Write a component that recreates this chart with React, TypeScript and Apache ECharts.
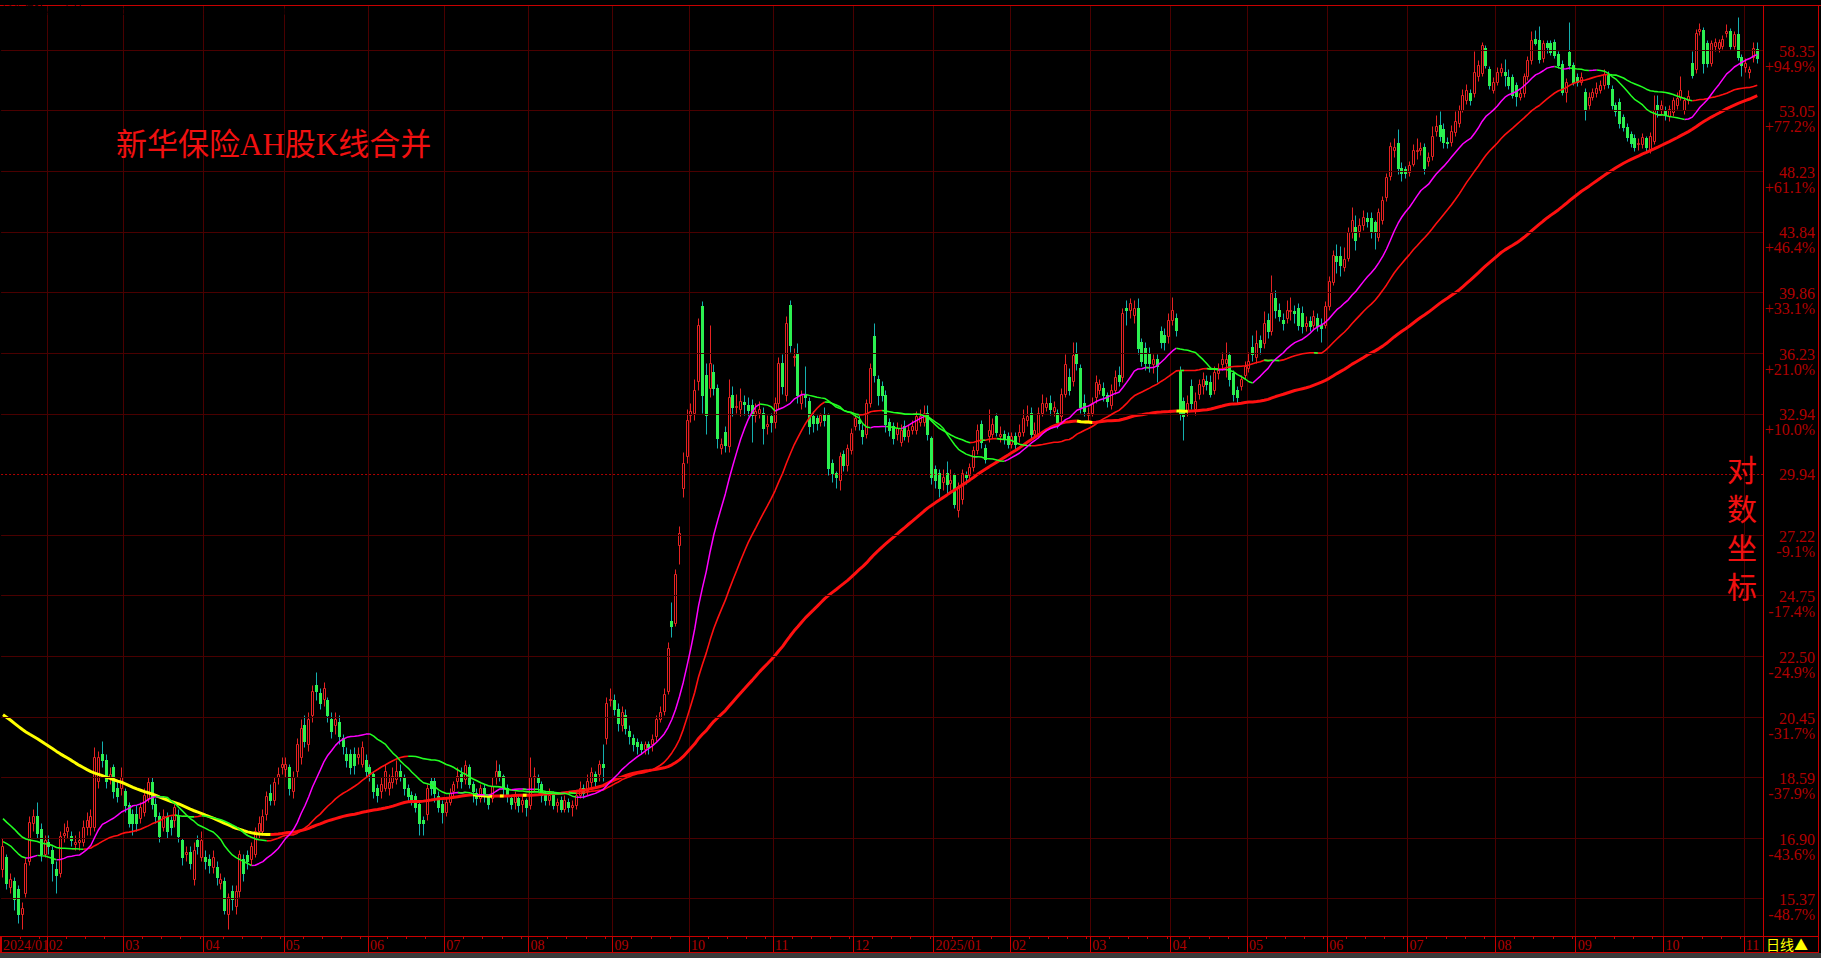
import React, { useEffect, useRef } from "react";
import * as echarts from "echarts";

// ---------------- data ----------------
const monthKeys = ["2024/01","2024/02","2024/03","2024/04","2024/05","2024/06","2024/07","2024/08","2024/09","2024/10","2024/11","2024/12","2025/01","2025/02","2025/03","2025/04","2025/05","2025/06","2025/07","2025/08","2025/09","2025/10","2025/11"];
const monthLabels = ["2024/01","02","03","04","05","06","07","08","09","10","11","12","2025/01","02","03","04","05","06","07","08","09","10","11"];
const monthTradingDays = [12,20,21,21,22,20,22,22,20,22,21,21,20,21,21,20,21,21,23,21,23,21,5];

const yTickValues = [15.37,16.90,18.59,20.45,22.50,24.75,27.22,29.94,32.94,36.23,39.86,43.84,48.23,53.05,58.35];
const yTickLabels = ["15.37","16.90","18.59","20.45","22.50","24.75","27.22","29.94","32.94","36.23","39.86","43.84","48.23","53.05","58.35"];
const yTickPercents = ["-48.7%","-43.6%","-37.9%","-31.7%","-24.9%","-17.4%","-9.1%","","+10.0%","+21.0%","+33.1%","+46.4%","+61.1%","+77.2%","+94.9%"];
const yBaseValue = 29.94;
const yMin = 14.494;
const yMax = 62.63;

const headerName = "新华保险AH合并(20,38,100)";
const headerValues = ["57.925","57.925","55.206","55.206","53.951","53.951"];
const headerColors = ["#3434ff","#ff00ff","#00a8a8","#d0d0d0","#d0d0d0","#d0d0d0"];
const titleText = "新华保险AH股K线合并";
const scaleNote = "对数坐标";
const periodText = "日线▲";

const maPeriods = [20, 38, 100];

// closes of the sessions before the window (estimated from where the MA lines start)
const priorCloses = [
  24.8,24.6,24.9,25.1,24.7,24.3,24.5,24.8,24.4,24.1,24.3,24.6,24.2,23.9,24.1,24.4,24.0,23.7,23.9,24.2,23.8,23.5,23.7,23.4,
  23.3,22.9,23.1,22.6,22.2,22.5,22.1,21.8,22.2,22.6,22.3,21.9,21.6,22.0,21.7,21.3,21.6,21.9,21.5,21.1,21.4,21.0,20.7,21.1,21.5,21.2,20.8,20.5,20.9,20.6,20.2,20.5,20.8,20.4,20.1,19.8,20.1,19.7,19.4,19.7,19.3,19.0,19.2,18.8,
  18.2,18.5,18.1,17.8,18.0,17.6,17.3,17.6,17.9,17.5,17.2,17.4,17.1,16.8,17.1,17.4,17.0,16.7,16.9,17.2,16.8,16.5,16.7,17.0,17.3,16.9,16.6,16.8,16.5,16.3,16.6,16.4,
];

// [open, close, low, high]
const kJan2024toAug2024 = [
  [16.1,16.7,15.9,16.9],[16.4,15.75,15.6,16.5],[15.65,15.85,15.5,16.0],[15.8,15.35,15.1,15.9],[15.6,15.0,14.8,15.7],
  [15.0,15.15,14.65,15.3],[15.5,16.25,15.4,16.4],[16.3,17.35,16.2,17.5],[17.3,17.5,17.1,17.7],[17.5,17.05,16.9,17.9],
  [17.15,16.5,16.3,17.3],[16.5,16.85,16.4,17.0],[16.8,16.7,16.5,17.0],[16.6,16.25,15.8,16.7],[16.1,15.95,15.5,16.3],
  [16.0,16.95,15.9,17.1],[17.0,17.05,16.8,17.3],[17.1,17.2,16.9,17.4],[16.95,16.85,16.7,17.1],[16.75,16.8,16.6,17.0],
  [16.8,16.85,16.6,17.1],[16.8,17.2,16.7,17.4],[17.2,17.4,17.0,17.6],[17.2,17.5,17.0,17.7],[17.2,19.2,17.1,19.5],
  [18.5,19.2,18.3,19.4],[19.3,19.1,18.9,19.7],[19.1,18.5,18.3,19.3],[18.6,18.7,18.4,18.9],[18.9,18.2,18.0,19.0],
  [18.3,18.05,17.9,18.5],[18.3,18.6,18.1,18.9],[18.2,17.8,17.6,18.3],[17.8,17.3,17.2,17.9],[17.55,17.3,17.0,17.7],
  [17.55,17.3,17.1,17.8],[17.45,17.75,17.3,17.9],[17.6,18.1,17.5,18.3],[18.0,18.45,17.9,18.6],[18.45,17.85,17.7,18.6],
  [17.85,17.5,17.3,18.0],[17.5,16.95,16.8,17.6],[17.2,17.5,17.1,17.7],[17.5,17.1,16.9,17.6],[17.4,17.2,17.0,17.5],
  [17.4,17.75,17.2,17.9],[17.5,16.95,16.8,17.7],[16.85,16.4,16.2,16.9],[16.5,16.55,16.3,16.7],[16.55,16.25,16.1,16.7],
  [15.85,16.6,15.7,16.8],[16.85,16.7,16.5,17.0],[16.4,16.85,16.3,17.1],[16.4,16.3,16.1,16.6],[16.35,16.2,16.0,16.5],
  [16.15,16.4,16.0,16.6],[16.15,15.9,15.7,16.3],[15.75,15.85,15.6,16.0],[15.8,15.1,15.0,15.9],[15.0,15.4,14.65,15.5],
  [15.55,15.35,15.1,15.7],[15.2,15.55,15.0,15.7],[15.55,16.5,15.4,16.6],[16.35,16.0,15.8,16.5],[16.45,16.3,16.1,16.6],
  [16.35,16.7,16.2,16.8],[16.5,17.1,16.4,17.2],[17.1,17.3,16.9,17.5],[17.1,17.5,17.0,17.7],[17.55,18.05,17.4,18.2],
  [18.15,17.95,17.8,18.4],[17.95,18.45,17.8,18.6],[18.6,18.7,18.4,18.9],[18.9,19.0,18.7,19.2],[18.85,19.0,18.6,19.2],
  [18.9,18.3,18.1,19.0],[18.2,18.6,18.0,18.8],[18.8,19.6,18.6,19.8],[19.2,20.1,19.0,20.4],[20.2,19.7,19.5,20.5],
  [19.6,20.4,19.4,20.6],[20.5,21.3,20.3,21.5],[21.5,21.3,21.0,21.95],[21.25,20.9,20.7,21.4],[21.05,21.4,20.8,21.6],
  [21.0,20.5,20.3,21.1],[20.4,20.0,19.8,20.6],[20.2,20.4,19.9,20.6],[20.3,19.85,19.6,20.5],[19.8,19.55,19.3,19.9],
  [19.3,19.1,18.9,19.5],[19.3,18.9,18.7,19.45],[19.3,18.95,18.7,19.5],[19.2,19.3,19.0,19.5],[19.0,19.5,18.9,19.7],
  [19.1,18.8,18.6,19.3],[18.9,18.7,18.5,19.0],[18.7,18.2,18.0,18.8],[18.3,18.1,17.9,18.4],[18.2,18.4,18.0,18.6],
  [18.3,18.8,18.2,19.0],[18.3,18.45,18.1,18.7],[18.45,18.65,18.3,18.9],[18.55,18.8,18.4,19.1],[18.8,18.65,18.5,19.0],
  [18.6,18.3,18.1,18.7],[18.3,18.05,17.9,18.4],[18.1,17.95,17.8,18.2],[18.05,17.75,17.6,18.15],[17.85,17.3,17.0,17.9],
  [17.4,17.3,17.0,17.5],[17.55,18.3,17.4,18.4],[18.5,18.3,18.1,18.6],[18.5,18.15,17.9,18.6],[18.05,17.75,17.6,18.2],
  [17.85,17.6,17.3,17.95],
  [17.6,17.9,17.5,18.0],[17.9,18.15,17.8,18.3],[18.2,18.4,18.0,18.5],[18.5,18.65,18.3,18.9],[18.7,18.5,18.3,18.9],
  [18.55,18.95,18.4,19.1],[18.9,18.4,18.3,19.0],[18.4,18.2,17.9,18.5],[18.15,18.0,17.8,18.3],[18.0,18.3,17.9,18.4],
  [18.3,18.1,17.9,18.4],[18.05,17.85,17.7,18.1],[18.0,18.35,17.9,18.6],[18.6,18.8,18.4,19.1],[18.8,18.65,18.5,19.0],
  [18.65,18.3,18.1,18.7],[18.3,18.05,17.9,18.4],[18.0,17.85,17.7,18.1],[17.9,18.05,17.7,18.2],[18.0,17.8,17.6,18.1],
  [17.85,17.95,17.6,18.1],[17.95,17.75,17.5,18.0],
  [17.8,18.6,17.7,19.2],[18.6,18.65,18.2,18.9],[18.6,18.45,18.2,18.7],[18.4,18.1,17.9,18.5],[18.1,17.95,17.8,18.2],
  [17.95,18.1,17.8,18.3],[18.1,17.8,17.7,18.2],[17.8,17.9,17.6,18.0],[17.95,17.7,17.6,18.05],[17.7,17.95,17.6,18.1],
  [17.9,17.75,17.6,18.0],[17.75,17.8,17.5,17.95],[17.8,18.1,17.7,18.2],[18.1,18.3,18.0,18.5],[18.3,18.15,18.0,18.4],
  [18.2,18.5,18.1,18.7],[18.45,18.75,18.3,18.9],[18.7,18.5,18.3,18.8],
];

const kAug2024toDec2024 = [
  [18.7,19.0,18.5,19.1],[19.0,18.9,18.5,19.6],[19.8,20.9,19.6,21.1],[21.0,21.05,20.8,21.4],[21.0,20.7,20.5,21.2],
  [20.7,20.25,20.0,20.9],[20.2,20.6,20.0,20.8],[20.5,20.1,19.9,20.7],[20.0,19.85,19.6,20.2],[19.8,19.6,19.4,19.9],
  [19.65,19.55,19.3,19.8],[19.6,19.45,19.3,19.7],[19.45,19.6,19.3,19.7],[19.6,19.5,19.3,19.7],[19.6,19.75,19.4,19.9],
  [19.85,20.4,19.7,20.5],[20.4,20.6,20.3,20.8],[20.65,21.2,20.5,21.4],[21.3,22.8,21.2,23.0],[23.8,23.6,23.2,24.5],
  [23.7,25.6,23.6,25.8],[26.8,27.3,26.0,27.6],[29.3,30.5,28.9,31.0],[30.8,32.6,30.5,33.2],[32.9,33.1,32.5,33.5],
  [33.0,34.2,32.6,34.8],[34.7,37.9,34.2,38.3],[39.0,33.9,33.0,39.3],[35.0,32.9,31.9,35.7],[34.3,35.7,33.8,37.9],
  [35.2,34.3,33.9,35.6],[34.3,31.7,31.2,34.5],[31.2,31.4,30.9,31.7],[32.0,31.35,31.0,32.3],[31.3,33.8,31.0,34.8],
  [33.9,33.3,32.8,34.4],[33.3,33.35,33.0,34.0],[33.2,33.6,32.8,34.3],[33.55,33.45,32.9,33.9],[33.4,33.15,32.8,33.8],
  [33.4,32.9,31.5,33.7],[32.9,33.1,32.5,33.5],[33.0,33.2,32.7,33.6],[33.0,32.2,31.4,33.3],[32.3,32.4,31.9,32.9],
  [32.8,32.5,32.0,33.0],[32.5,33.5,32.2,33.8],[33.5,35.7,33.2,36.0],[35.7,34.4,34.0,36.2],[33.9,38.0,33.6,38.4],
  [39.1,36.7,36.3,39.4],[36.0,36.05,35.5,36.5],[36.2,33.9,33.5,36.8],[33.5,33.9,33.2,34.2],[33.9,33.8,33.3,35.5],
  [33.6,32.3,31.9,33.8],[32.8,32.45,32.0,33.1],[32.7,32.45,32.1,32.9],[32.5,32.85,32.3,33.0],[32.9,32.6,32.3,33.3],
  [32.9,30.25,29.9,33.0],[30.5,30.0,29.6,30.7],[30.0,29.8,29.3,30.1],[29.7,30.8,29.2,31.0],[30.9,30.4,30.1,31.1],
  [30.4,31.2,30.1,31.4],[31.1,31.95,30.9,32.2],[32.3,32.7,32.1,33.0],[32.6,32.45,32.1,32.9],[32.1,31.8,31.4,32.4],
  [31.9,33.5,31.7,33.7],[33.5,35.4,33.3,35.7],[37.2,35.0,34.6,38.0],[34.8,33.9,33.4,35.0],[34.4,33.9,33.6,34.7],
  [33.9,32.4,32.0,34.2],
];

const kDec2024toApr2025 = [
  [32.5,32.1,31.8,32.7],[32.3,31.7,31.4,32.5],[31.9,32.2,31.6,32.5],[31.5,32.1,31.3,32.4],[32.3,31.8,31.6,32.6],
  [31.8,32.1,31.5,32.4],[32.1,32.3,31.9,32.6],[32.1,32.8,31.9,33.1],[32.5,32.8,32.3,33.2],[32.5,33.0,32.3,33.4],
  [33.0,31.9,31.6,33.4],[31.7,29.8,29.5,31.8],[30.2,29.7,29.3,30.4],[30.0,29.3,28.9,30.2],[29.6,29.8,29.2,30.2],
  [30.0,29.5,29.1,30.6],[29.55,29.7,29.2,30.2],[29.9,28.6,28.4,30.0],[28.3,29.4,28.0,29.6],[28.8,30.0,28.6,30.2],
  [29.9,29.8,29.5,30.1],[29.9,30.3,29.7,30.5],[30.3,31.1,30.1,31.3],[31.1,32.1,30.9,32.4],[32.4,31.5,31.2,32.6],
  [31.2,30.7,30.5,31.4],[31.8,32.1,31.5,33.2],[31.9,32.4,31.7,32.7],[32.8,32.0,31.8,33.0],[31.8,31.9,31.5,32.3],
  [31.9,31.7,31.4,32.1],[31.8,31.4,31.2,32.0],[31.4,31.8,31.2,32.0],[31.8,31.4,31.1,32.0],[31.8,32.0,31.5,32.4],
  [32.0,32.7,31.8,33.2],[32.6,32.8,32.3,33.4],[33.0,31.9,31.6,33.3],[31.9,32.1,31.7,32.5],[31.9,33.0,31.7,33.3],
  [33.0,33.5,32.8,34.0],[33.3,33.5,33.1,33.8],[33.5,33.2,32.9,33.9],[33.1,33.3,32.8,33.6],[33.0,32.5,32.2,33.2],
  [32.8,34.0,32.5,34.3],[34.0,35.6,33.8,36.2],[34.9,34.2,33.9,35.4],[34.7,36.1,34.4,36.9],[36.2,35.7,35.3,36.9],
  [35.4,33.3,33.0,35.6],[33.5,33.1,32.8,34.0],[32.9,33.0,32.5,33.3],[33.0,33.5,32.8,33.8],[33.8,34.6,33.5,35.0],
  [34.2,34.5,34.0,34.8],[34.3,33.9,33.6,34.6],[33.9,33.6,33.3,34.1],[33.4,34.2,33.2,34.5],[34.2,34.9,34.0,35.3],
  [35.0,34.7,34.4,35.5],[34.9,38.6,34.6,38.9],[38.9,38.8,37.9,39.4],[38.8,39.2,38.3,39.5],[38.5,38.9,38.0,39.4],
  [38.9,36.5,36.2,39.5],[36.9,35.8,35.5,37.1],[36.5,35.7,35.3,36.9],[36.2,35.7,35.2,36.6],[35.6,35.9,35.1,36.2],
  [35.9,35.5,34.6,36.2],[37.5,36.9,36.5,37.8],[37.3,36.9,36.4,37.7],[37.2,38.2,36.8,38.6],[38.2,38.8,37.9,39.6],
  [38.3,37.6,37.2,38.6],
];

const kApr2025toJul2025 = [
  [35.3,33.0,32.6,35.5],[33.6,32.8,31.6,33.8],[33.1,33.5,32.8,33.9],[34.4,33.5,33.2,34.8],[33.2,33.6,32.9,34.1],
  [34.0,34.5,33.7,34.8],[34.4,34.8,34.0,35.2],[34.7,34.5,34.2,35.0],[34.6,34.0,33.8,35.0],[34.2,35.2,34.0,35.5],
  [35.1,35.3,34.8,35.7],[35.6,35.9,35.3,36.3],[35.7,35.9,34.9,36.9],[36.1,34.8,34.4,36.3],[35.1,34.0,33.6,35.3],
  [34.2,33.8,33.5,34.4],[34.4,34.8,34.2,35.0],[35.0,35.5,34.8,35.8],[35.4,35.8,35.2,36.3],[36.6,36.2,35.8,37.3],
  [36.0,36.8,35.7,37.6],[37.0,36.6,36.2,37.3],[36.8,38.0,36.5,38.7],[38.2,37.5,37.1,38.6],[37.5,39.8,37.3,41.0],
  [39.5,38.8,38.3,40.0],[38.8,38.4,38.1,39.2],[38.2,38.0,37.6,38.6],[38.3,38.8,38.0,39.4],[38.7,38.8,38.2,39.6],
  [38.7,38.6,38.0,39.1],[38.9,37.9,37.6,39.2],[38.6,37.8,37.4,39.0],[37.8,38.0,37.5,38.4],[38.1,37.8,37.5,38.4],
  [37.9,38.4,37.6,38.8],[38.3,37.8,37.5,38.6],[37.9,37.7,36.9,38.3],[37.9,39.0,37.7,39.3],[39.0,40.6,38.8,40.9],
  [40.5,42.3,40.3,42.6],[42.2,41.9,41.1,43.0],[42.2,41.6,40.9,42.9],[41.5,42.0,41.2,42.8],[42.1,43.8,41.9,44.2],
  [43.8,44.7,43.4,45.6],[44.2,43.3,42.6,45.0],[43.9,44.3,43.5,44.8],[44.3,44.9,44.0,45.4],[44.8,44.6,44.2,45.2],
  [44.8,43.8,43.4,45.2],[44.5,43.8,42.7,44.7],[43.5,45.2,43.2,45.5],[44.7,46.1,44.4,46.4],[46.3,47.8,46.0,48.1],
  [47.9,50.2,47.6,50.5],[49.9,50.1,49.3,50.8],[50.4,48.5,48.0,51.5],[48.5,48.1,47.5,48.9],[48.4,48.1,47.7,48.6],
  [48.2,48.7,47.9,49.0],[48.8,49.9,48.6,50.3],[49.8,49.9,49.2,50.8],[49.9,50.0,49.5,50.5],[50.1,48.5,48.0,50.4],
  [49.0,49.3,48.6,49.7],[49.4,51.0,49.1,51.8],[51.4,51.8,51.0,52.7],[51.9,51.0,50.6,53.0],[51.5,50.5,50.0,52.0],
  [50.5,50.4,50.0,50.9],[50.5,51.4,50.2,51.9],[51.3,52.2,51.0,53.0],
];

const kJul2025toNov2025 = [
  [52.0,53.1,51.7,53.5],[53.1,54.4,52.9,54.9],[53.9,54.8,53.6,55.3],[54.5,53.9,53.5,54.9],[54.5,56.4,54.2,58.3],
  [56.0,57.0,55.6,57.4],[56.3,58.8,56.0,59.1],[58.5,57.0,56.7,58.8],[56.6,55.2,54.9,56.9],[54.8,55.5,54.5,55.9],
  [55.5,56.4,55.2,56.8],[56.4,56.7,56.0,57.2],[56.4,56.1,55.1,57.5],[55.9,55.2,54.9,56.6],[55.9,54.4,54.1,56.2],
  [55.2,54.3,53.4,55.5],[54.2,54.5,53.9,54.9],[54.5,56.0,54.2,56.3],[56.0,57.4,55.7,57.8],[57.4,59.3,57.1,60.1],
  [59.4,59.0,58.8,60.2],[59.3,57.5,57.2,60.6],[57.6,59.0,57.3,59.3],[59.0,58.6,58.1,59.3],[59.0,58.2,57.9,59.3],
  [59.1,57.9,57.6,59.4],[58.0,57.0,56.7,58.3],[57.1,54.6,54.4,57.4],[54.6,55.5,53.8,55.8],[58.2,57.0,56.6,61.0],
  [57.0,55.5,55.2,57.3],[55.9,55.5,55.1,56.3],[55.5,55.9,55.2,56.4],[54.6,53.2,52.3,55.0],[53.5,54.2,53.2,54.6],
  [54.2,54.6,53.9,55.0],[54.5,55.0,54.2,55.5],[54.8,55.2,54.5,55.7],[55.2,56.2,54.9,56.6],[56.2,55.3,55.0,56.5],
  [54.9,53.5,53.2,55.2],[53.5,53.0,52.6,53.8],[53.8,52.0,51.6,54.1],[52.5,51.7,51.4,52.8],[51.7,50.9,50.6,52.0],
  [51.1,50.4,50.1,51.4],[50.8,50.1,49.8,51.1],[50.3,50.4,49.9,50.8],[50.3,50.9,50.0,51.2],[50.8,50.1,49.8,51.0],
  [49.9,51.0,49.6,51.3],[50.6,53.1,50.3,54.4],[53.5,53.1,52.5,54.4],[53.2,53.5,52.8,53.9],[53.1,52.7,52.3,53.4],
  [52.6,53.2,52.2,53.5],[52.9,53.9,52.6,54.2],[53.5,54.1,53.2,54.6],[54.2,54.8,53.9,56.0],[53.1,53.9,52.8,54.2],
  [53.9,54.3,53.6,54.8],[57.2,56.1,55.8,58.3],[56.6,59.9,56.3,60.3],[60.1,60.3,59.7,60.9],[60.2,57.2,56.3,60.5],
  [59.0,57.2,56.8,59.3],[57.2,59.0,56.9,59.3],[58.7,59.1,58.3,59.5],[58.5,59.1,58.2,59.4],[58.7,59.4,58.4,59.7],
  [59.9,60.1,59.6,60.8],[60.1,58.7,58.4,60.4],[58.7,59.8,58.4,60.1],[59.8,57.7,57.4,61.5],[57.7,57.0,56.0,58.0],
  [56.8,57.2,56.4,57.6],[56.4,56.6,55.8,56.9],[57.7,58.5,57.3,59.1],[58.4,57.6,57.2,59.1],
];

// ---------------- styling ----------------
const BG = "#000000";
const GRID = "#4a0000";
const BASE = "#b00000";
const FRAME = "#c80000";
const AXIS_TEXT = "#b00000";
const UP = "#e62222";
const DOWN_BODY = "#2cf050";
const DOWN_WICK = "#14b0b0";
const SERIF = '"Liberation Serif", "DejaVu Serif", "Noto Sans CJK SC", serif';
const CJK = '"Liberation Serif", "Noto Sans CJK SC", sans-serif';

function buildOption() {
  const candles = [
    ...kJan2024toAug2024,
    ...kAug2024toDec2024,
    ...kDec2024toApr2025,
    ...kApr2025toJul2025,
    ...kJul2025toNov2025,
  ];

  const categories: string[] = [];
  const labelOf: string[] = [];
  const isMonthStart: boolean[] = [];
  const isWeekTick: boolean[] = [];
  monthKeys.forEach((key, mi) => {
    for (let d = 0; d < monthTradingDays[mi]; d++) {
      categories.push(`${key}/${d + 1}`);
      labelOf.push(d === 0 ? monthLabels[mi] : "");
      isMonthStart.push(d === 0);
      isWeekTick.push(d > 0 && d % 5 === 0);
    }
  });

  const closes = candles.map((k) => k[1]);
  const all = [...priorCloses, ...closes];
  const off = priorCloses.length;
  const movingAverage = (n: number) =>
    closes.map((_, i) => {
      let s = 0;
      for (let k = off + i - n + 1; k <= off + i; k++) s += all[k];
      return +(s / n).toFixed(4);
    });
  const splitTrend = (ma: number[]) => {
    const rising = ma.map((v, i) => (i === 0 ? ma[1] >= ma[0] : v >= ma[i - 1]));
    const up = ma.map((v, i) => (rising[i] || (i + 1 < ma.length && rising[i + 1]) ? v : null));
    const down = ma.map((v, i) => (!rising[i] || (i + 1 < ma.length && !rising[i + 1]) ? v : null));
    return { up, down };
  };
  const ma20 = splitTrend(movingAverage(maPeriods[0]));
  const ma38 = splitTrend(movingAverage(maPeriods[1]));
  const ma100 = splitTrend(movingAverage(maPeriods[2]));

  const lineSeries = (name: string, data: (number | null)[], color: string, width: number, z: number) => ({
    type: "line",
    name,
    data,
    symbol: "none",
    showSymbol: false,
    silent: true,
    connectNulls: false,
    z,
    lineStyle: { color, width },
    itemStyle: { color },
    emphasis: { disabled: true },
  });

  const richLabel = {
    v: { width: 50, align: "right", color: AXIS_TEXT, fontSize: 16, fontFamily: SERIF, lineHeight: 15 },
    p: { width: 50, align: "right", color: AXIS_TEXT, fontSize: 16, fontFamily: SERIF, lineHeight: 15 },
  };

  const headerRich: any = {
    n: { color: "#c8c8c8", fontSize: 11, fontFamily: CJK },
    r: { color: "#ff2020", fontSize: 11, fontFamily: SERIF },
  };
  headerValues.forEach((_, k) => {
    headerRich[`c${k}`] = { color: headerColors[k], fontSize: 11, fontFamily: SERIF };
  });
  const headerText =
    `{n|${headerName} }` +
    headerValues.map((v, k) => `{c${k}|${v}}{r|↑}{n|${k === headerValues.length - 1 ? "," : ", "}}`).join("");

  return {
    animation: false,
    backgroundColor: BG,
    grid: { left: 0, right: 58, top: 5, bottom: 22, containLabel: false },
    xAxis: [
      {
        type: "category",
        data: categories,
        boundaryGap: true,
        axisLine: { onZero: false, lineStyle: { color: FRAME, width: 1 } },
        axisTick: { show: true, interval: (i: number) => isWeekTick[i], length: 3, lineStyle: { color: FRAME } },
        axisLabel: {
          show: true,
          interval: (i: number) => isMonthStart[i],
          formatter: (_v: string, i: number) => labelOf[i],
          color: AXIS_TEXT,
          fontSize: 14,
          fontFamily: SERIF,
          align: "left",
          margin: 2,
        },
        splitLine: { show: true, interval: (i: number) => isMonthStart[i] && i > 0, lineStyle: { color: GRID, width: 1 } },
      },
      {
        type: "category",
        data: categories,
        position: "bottom",
        boundaryGap: true,
        axisLine: { show: false, onZero: false },
        axisTick: { show: true, interval: (i: number) => isMonthStart[i], length: 16, lineStyle: { color: FRAME } },
        axisLabel: { show: false },
        splitLine: { show: false },
      },
    ],
    yAxis: {
      type: "log",
      logBase: 10,
      min: yMin,
      max: yMax,
      position: "right",
      axisLine: { show: false },
      axisTick: { show: false },
      axisLabel: { show: false },
      splitLine: { show: false },
    },
    series: [
      {
        type: "line",
        name: "grid",
        data: categories.map(() => null),
        symbol: "none",
        silent: true,
        clip: false,
        z: 1,
        markLine: {
          silent: true,
          animation: false,
          symbol: ["none", "none"],
          emphasis: { disabled: true },
          lineStyle: { color: GRID, width: 1, type: "solid" },
          data: yTickValues.map((v, k) => ({
            yAxis: v,
            lineStyle:
              v === yBaseValue
                ? { color: BASE, width: 1, type: [2, 2] }
                : { color: GRID, width: 1, type: "solid" },
            label: {
              show: true,
              position: "end",
              distance: 2,
              formatter: yTickPercents[k] ? `{v|${yTickLabels[k]}}\n{p|${yTickPercents[k]}}` : `{v|${yTickLabels[k]}}`,
              padding: yTickPercents[k] ? [17, 0, 0, 0] : [0, 0, 0, 0],
              rich: richLabel,
            },
          })),
        },
      },
      {
        type: "custom",
        name: "K",
        silent: true,
        z: 3,
        data: candles.map((k, i) => [i, k[0], k[1], k[2], k[3]]),
        encode: { x: 0, y: [1, 2, 3, 4] },
        renderItem: (_params: any, api: any) => {
          const i = api.value(0);
          const o = api.value(1);
          const c = api.value(2);
          const lo = Math.min(api.value(3), o, c);
          const hi = Math.max(api.value(4), o, c);
          const pO = api.coord([i, o]);
          const pC = api.coord([i, c]);
          const pL = api.coord([i, lo]);
          const pH = api.coord([i, hi]);
          const xc = Math.floor(pO[0]) + 0.5;
          const yTop = Math.round(Math.min(pO[1], pC[1])) + 0.5;
          const yBot = Math.round(Math.max(pO[1], pC[1])) + 0.5;
          const yH = Math.round(pH[1]) + 0.5;
          const yL = Math.round(pL[1]) + 0.5;
          const children: any[] = [];
          if (c >= o) {
            if (yTop > yH) children.push({ type: "line", shape: { x1: xc, y1: yH, x2: xc, y2: yTop }, style: { stroke: UP, lineWidth: 1 } });
            if (yL > yBot) children.push({ type: "line", shape: { x1: xc, y1: yBot, x2: xc, y2: yL }, style: { stroke: UP, lineWidth: 1 } });
            if (yBot - yTop >= 1) {
              children.push({ type: "rect", shape: { x: xc - 1, y: yTop, width: 2, height: yBot - yTop }, style: { fill: "none", stroke: UP, lineWidth: 1 } });
            } else {
              children.push({ type: "line", shape: { x1: xc - 1.5, y1: yTop, x2: xc + 1.5, y2: yTop }, style: { stroke: UP, lineWidth: 1 } });
            }
          } else {
            children.push({ type: "line", shape: { x1: xc, y1: yH, x2: xc, y2: yL }, style: { stroke: DOWN_WICK, lineWidth: 1 } });
            children.push({ type: "rect", shape: { x: xc - 1.5, y: yTop - 0.5, width: 3, height: Math.max(1, yBot - yTop + 1) }, style: { fill: DOWN_BODY } });
          }
          return { type: "group", children };
        },
      },
      lineSeries("MA100上", ma100.up, "#ff1010", 3, 4),
      lineSeries("MA100下", ma100.down, "#ffff00", 3, 4),
      lineSeries("MA38上", ma38.up, "#ff1010", 1.6, 5),
      lineSeries("MA38下", ma38.down, "#22ff22", 1.6, 5),
      lineSeries("MA20上", ma20.up, "#ff00ff", 1.5, 6),
      lineSeries("MA20下", ma20.down, "#22ff22", 1.5, 6),
    ],
    graphic: [
      { type: "line", z: 100, shape: { x1: 0, y1: 5.5, x2: 1821, y2: 5.5 }, style: { stroke: FRAME, lineWidth: 1 } },
      { type: "line", z: 100, shape: { x1: 1763.5, y1: 5, x2: 1763.5, y2: 953 }, style: { stroke: FRAME, lineWidth: 1 } },
      { type: "line", z: 100, shape: { x1: 1818.5, y1: 5, x2: 1818.5, y2: 953 }, style: { stroke: FRAME, lineWidth: 1 } },
      { type: "line", z: 100, shape: { x1: 1763, y1: 936.5, x2: 1819, y2: 936.5 }, style: { stroke: FRAME, lineWidth: 1 } },
      { type: "line", z: 100, shape: { x1: 0, y1: 952.5, x2: 1819, y2: 952.5 }, style: { stroke: FRAME, lineWidth: 1 } },
      { type: "line", z: 100, shape: { x1: 0.5, y1: 936, x2: 0.5, y2: 953 }, style: { stroke: FRAME, lineWidth: 1 } },
      { type: "rect", z: 100, shape: { x: 0, y: 953, width: 1821, height: 5 }, style: { fill: "#3a3a3a" } },
      {
        type: "text",
        z: 100,
        left: 1,
        top: 5,
        style: { text: headerText, rich: headerRich, fontSize: 11, fontFamily: CJK },
      },
      {
        type: "text",
        z: 100,
        left: 116,
        top: 129,
        style: { text: titleText, fill: "#f01010", fontSize: 31, fontFamily: CJK },
      },
      {
        type: "text",
        z: 100,
        left: 1727,
        top: 451,
        style: { text: scaleNote.split("").join("\n"), fill: "#f01010", fontSize: 30, lineHeight: 39, fontFamily: CJK },
      },
      {
        type: "text",
        z: 100,
        left: 1766,
        top: 937,
        style: { text: periodText, fill: "#ffff00", fontSize: 14, fontFamily: '"Noto Sans CJK SC", sans-serif' },
      },
    ],
  };
}

export default function App() {
  const ref = useRef<HTMLDivElement>(null);
  useEffect(() => {
    if (!ref.current) return;
    const chart = echarts.init(ref.current, undefined, { renderer: "svg" });
    chart.setOption(buildOption() as any);
    return () => chart.dispose();
  }, []);
  return (
    <div
      ref={ref}
      style={{ position: "fixed", left: 0, top: 0, width: "1821px", height: "958px", background: "#000" }}
    />
  );
}
